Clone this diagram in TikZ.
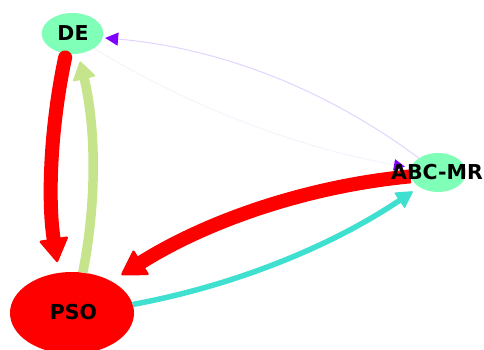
\documentclass[tikz,border=0pt]{standalone}
\usepackage{fontspec}
\setmainfont{DejaVu Sans}
\usetikzlibrary{arrows.meta,shapes.geometric}
\definecolor{mint}{RGB}{128,255,184}
\definecolor{redE}{RGB}{255,0,0}
\definecolor{lgreen}{RGB}{197,228,140}
\definecolor{turq}{RGB}{64,224,208}
\definecolor{violetH}{RGB}{127,0,255}
\definecolor{violetL}{RGB}{226,212,255}
\definecolor{faintL}{RGB}{245,243,252}
\pgfdeclarelayer{bg}
\pgfdeclarelayer{fg}
\pgfsetlayers{bg,main,fg}
\tikzset{
  vert/.style={ellipse, inner sep=0pt, outer sep=0pt},
  lbl/.style={inner sep=0pt, font=\fontsize{20.5}{24}\selectfont\bfseries},
  bigtip/.style={-{Triangle[length=25pt,width=30pt,line width=2.5pt,round]}},
}
\begin{document}
\begin{tikzpicture}[x=1pt,y=-1pt]
\useasboundingbox (0,0) rectangle (484,349);
\begin{pgfonlayer}{bg}
  \node[vert, fill=mint, minimum width=61.6pt, minimum height=41pt] (de) at (72.5,33.5) {};
  \node[vert, fill=mint, minimum width=56pt, minimum height=39pt] (abc) at (438,172.5) {};
  \node[vert, fill=redE, minimum width=124pt, minimum height=82pt] (pso) at (72,313) {};
\end{pgfonlayer}
% DE -> PSO
\draw[redE, line width=14pt, line cap=round, shorten <=4pt, shorten >=11pt, bigtip]
  (de.-108) .. controls +(-15.8,74.2) and +(-11.3,-72.1) .. (pso.108);
% PSO -> DE
\draw[lgreen, line width=9.5pt, shorten >=8pt,
  -{Triangle[length=19pt,width=24pt,line width=2pt,round]}]
  (pso.75) .. controls +(14.4,-73.1) and +(17.4,72.9) .. (de.-74);
% ABC-MR -> PSO
\draw[redE, line width=14pt, shorten >=12pt, bigtip]
  (abc.188) .. controls +(-103.7,9.8) and +(95.7,-60.2) .. (pso.39);
% PSO -> ABC-MR
\draw[turq, line width=5.5pt, shorten >=8pt,
  -{Triangle[length=17pt,width=19pt,line width=1.5pt,round]}]
  (pso.8) .. controls +(103.7,-19.3) and +(-87.6,58.8) .. (abc.218);
% ABC-MR -> DE
\draw[violetL, line width=1pt, shorten >=2.5pt,
  -{Triangle[length=13pt,width=13pt,color=violetH,fill=violetH]}]
  (abc.143) .. controls +(-94.1,-69.9) and +(116.9,10.2) .. (de.-8.5);
% DE -> ABC-MR
\draw[faintL, line width=1pt, shorten >=6pt,
  -{Triangle[length=11pt,width=11pt,color=violetH,fill=violetH]}]
  (de.-35) .. controls +(98.4,59.5) and +(-112.5,-20) .. (abc.170);
\begin{pgfonlayer}{fg}
  \node[lbl] (de-t) at (73,33) {DE};
  \node[lbl] (abc-t) at (437,172.5) {ABC-MR};
  \node[lbl] (pso-t) at (73.5,312) {PSO};
\end{pgfonlayer}
\end{tikzpicture}
\end{document}
